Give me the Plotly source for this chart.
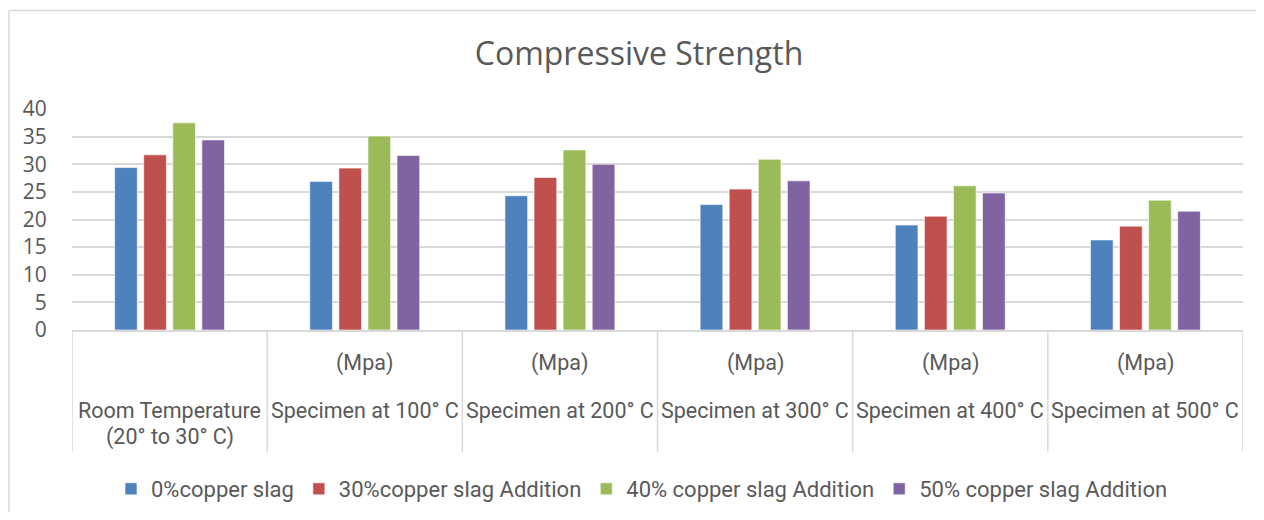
import plotly.graph_objects as go

categories = ["Room Temperature", "Specimen at 100° C", "Specimen at 200° C",
              "Specimen at 300° C", "Specimen at 400° C", "Specimen at 500° C"]
upper_labels = ["", "(Mpa)", "(Mpa)", "(Mpa)", "(Mpa)", "(Mpa)"]
lower_labels = ["(20° to 30° C)", "", "", "", "", ""]

series_names = ["0%copper slag", "30%copper slag Addition",
                "40% copper slag Addition", "50% copper slag Addition"]
s0 = [29.4, 26.9, 24.3, 22.7, 19.0, 16.3]
s30 = [31.7, 29.3, 27.6, 25.5, 20.6, 18.8]
s40 = [37.5, 35.1, 32.6, 30.9, 26.1, 23.5]
s50 = [34.4, 31.6, 30.0, 27.0, 24.8, 21.5]
colors = ["#4F81BD", "#C0504D", "#9BBB59", "#8064A2"]

OFF = 8  # page body margin
W, H = 1264 - OFF, 520 - OFF - 8
L, R, T, B = 72, 1243, 109, 330  # page pixel coords of plot area
ph = B - T
pw = R - L


def py(p):
    return (B - p) / ph


def px(p):
    return (p - L) / pw


txt = "#595959"
grid = "#D9D9D9"

fig = go.Figure()
xs = list(range(len(categories)))
for name, vals, c in zip(series_names, [s0, s30, s40, s50], colors):
    fig.add_trace(go.Bar(x=xs, y=vals, name=name, marker_color=c,
                         marker_line=dict(color="rgba(255,255,255,0.6)", width=1)))

shapes = []
for i in range(len(categories) + 1):
    shapes.append(dict(type="line", xref="x", yref="paper", x0=i - 0.5, x1=i - 0.5,
                       y0=0, y1=py(452), line=dict(color=grid, width=1.5)))
# chart border (left and top edges visible)
shapes.append(dict(type="line", xref="paper", yref="paper", x0=px(9), x1=px(9),
                   y0=py(560), y1=py(10.5), line=dict(color=grid, width=1.5)))
shapes.append(dict(type="line", xref="paper", yref="paper", x0=px(9), x1=px(1300),
                   y0=py(10.5), y1=py(10.5), line=dict(color=grid, width=1.5)))

lab_font = dict(family="Roboto, sans-serif", size=21.5, color=txt)
annotations = []
for i, (u, c, lw) in enumerate(zip(upper_labels, categories, lower_labels)):
    if u:
        annotations.append(dict(x=i, y=py(363), xref="x", yref="paper", text=u,
                                showarrow=False, font=lab_font, yanchor="middle"))
    annotations.append(dict(x=i, y=py(410), xref="x", yref="paper", text=c,
                            showarrow=False, font=lab_font, yanchor="middle"))
    if lw:
        annotations.append(dict(x=i, y=py(437), xref="x", yref="paper", text=lw,
                                showarrow=False, font=lab_font, yanchor="middle"))

fig.update_layout(
    width=W, height=H,
    margin=dict(l=L - OFF, r=(W + OFF) - R, t=T - OFF, b=(H + OFF) - B, autoexpand=False),
    paper_bgcolor="white", plot_bgcolor="white",
    title=dict(text="Compressive Strength", x=px(639), xanchor="center", xref="paper",
               y=1 - (54 - OFF) / H, yanchor="middle",
               font=dict(family="Open Sans, sans-serif", size=32, color=txt)),
    barmode="group", bargap=0.404, bargroupgap=0.22,
    xaxis=dict(type="linear", range=[-0.5, 5.5], showticklabels=False, showgrid=False,
               zeroline=False, showline=True, linecolor=grid, linewidth=1.5, ticks=""),
    yaxis=dict(range=[0, 40], dtick=5, showgrid=True, gridcolor=grid, gridwidth=1.5,
               zeroline=False, showline=False, ticks="outside", ticklen=20,
               tickcolor="rgba(0,0,0,0)",
               tickfont=dict(family="Open Sans, sans-serif", size=21, color=txt)),
    legend=dict(orientation="h", x=px(642), xanchor="center", y=py(489), yanchor="middle",
                font=dict(family="Roboto, sans-serif", size=22, color=txt),
                itemwidth=30, traceorder="normal"),
    shapes=shapes,
    annotations=annotations,
)

fig.write_html("out.html")
